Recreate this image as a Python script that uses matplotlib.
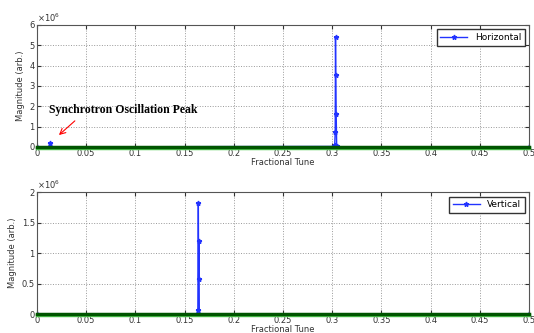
import matplotlib
matplotlib.use('Agg')
import matplotlib.pyplot as plt

# horizontal spectrum
h_tune = [0.0, 0.0125, 0.0135, 0.0145, 0.302, 0.3025, 0.303, 0.3033, 0.3036, 0.304, 0.3045, 0.305, 0.5]
h_mag = [0.0, 0.0, 0.2e6, 0.0, 0.02e6, 0.1e6, 0.75e6, 5.4e6, 3.55e6, 1.6e6, 0.05e6, 0.0, 0.0]

# vertical spectrum
v_tune = [0.0, 0.163, 0.1635, 0.164, 0.1643, 0.1646, 0.165, 0.5]
v_mag = [0.0, 0.0, 0.07e6, 1.83e6, 0.57e6, 1.2e6, 0.0, 0.0]

xticks = [0, 0.05, 0.1, 0.15, 0.2, 0.25, 0.3, 0.35, 0.4, 0.45, 0.5]
xlabels = ['0', '0.05', '0.1', '0.15', '0.2', '0.25', '0.3', '0.35', '0.4', '0.45', '0.5']
h_yticks = [0, 1e6, 2e6, 3e6, 4e6, 5e6, 6e6]
h_ylabels = ['0', '1', '2', '3', '4', '5', '6']
v_yticks = [0, 0.5e6, 1e6, 1.5e6, 2e6]
v_ylabels = ['0', '0.5', '1', '1.5', '2']

fig = plt.figure(figsize=(5.34, 3.33), dpi=100)
ax1 = fig.add_axes([0.069, 0.559, 0.922, 0.366])
ax2 = fig.add_axes([0.069, 0.057, 0.922, 0.366])

for ax, t, m, lab, ymax, yt, yl in [(ax1, h_tune, h_mag, 'Horizontal', 6e6, h_yticks, h_ylabels),
                                    (ax2, v_tune, v_mag, 'Vertical', 2e6, v_yticks, v_ylabels)]:
    ax.plot(t, m, '*-', color='#2233ff', lw=1, ms=3.5, label=lab)
    ax.plot([0, 0.5], [-0.012 * ymax, -0.012 * ymax], color='#55cc55', lw=2.5, zorder=3, clip_on=False)
    ax.plot([0, 0.5], [0, 0], color='#005500', lw=2.5, zorder=3, clip_on=False)
    ax.set_xlim(0, 0.5)
    ax.set_ylim(0, ymax)
    ax.set_xticks(xticks)
    ax.set_xticklabels(xlabels)
    ax.set_yticks(yt)
    ax.set_yticklabels(yl)
    ax.text(0.0, 1.01, r'$\times10^6$', transform=ax.transAxes, fontsize=6, color='#333333',
            ha='left', va='bottom')
    ax.grid(True, linestyle=':', color='#999999', lw=0.7)
    ax.tick_params(direction='in', top=True, right=True, labelsize=6, length=3, pad=1.5, colors='#333333')
    ax.set_xlabel('Fractional Tune', fontsize=6, labelpad=0, color='#333333')
    ax.set_ylabel('Magnitude (arb.)', fontsize=6, labelpad=3, color='#333333')
    for s in ax.spines.values():
        s.set_color('#555555')
    ax.legend(loc='upper right', fontsize=6.5, handlelength=3, fancybox=False,
              edgecolor='#333333', framealpha=1, borderaxespad=0.5)

ax1.text(0.012, 1.5e6, 'Synchrotron Oscillation Peak', fontsize=8.5, fontweight='bold',
         family='Liberation Serif', ha='left', va='bottom')
ax1.annotate('', xy=(0.0203, 0.49e6), xytext=(0.0407, 1.37e6),
             arrowprops=dict(arrowstyle='->', color='red', lw=0.8))

fig.savefig('out.png', dpi=100)
